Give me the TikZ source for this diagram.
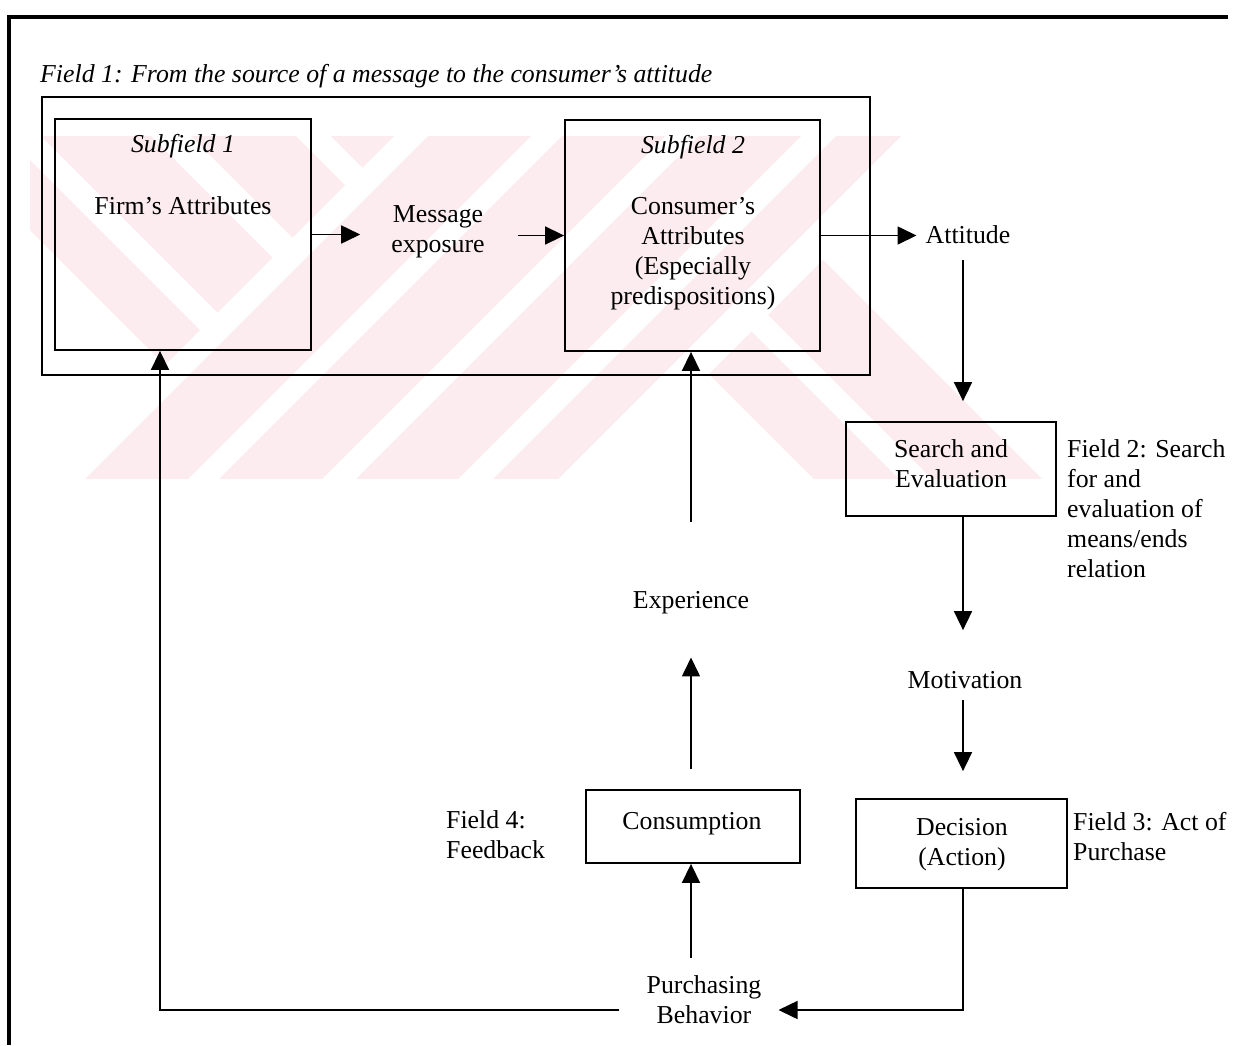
\documentclass[tikz,border=0pt]{standalone}
\usepackage{fontspec}
\setmainfont{Liberation Serif}
\usetikzlibrary{arrows.meta}
\definecolor{wmpink}{RGB}{252,236,240}
\newcommand{\dsize}{\fontsize{25.8}{30}\selectfont}

\begin{document}
\begin{tikzpicture}[x=1pt,y=-1pt,
  txt/.style={font=\dsize, align=center, inner sep=0pt},
  lbl/.style={font=\dsize, align=left, inner sep=0pt, anchor=west},
  frame/.style={draw, line width=1.8pt, inner sep=0pt},
  conn/.style={line width=1.6pt},
  arr/.style={conn, -{Triangle[length=19pt,width=18pt]}},
]
\useasboundingbox[fill=white] (0,0) rectangle (1243,1045);

% light background stripes
\begin{scope}
  \clip (30,136) rectangle (1060,478);
  % stripes leaning right, upper left part
  \begin{scope}
    \clip (0,0) -- (530,0) -- (0,530) -- cycle;
    \foreach \a/\b in {-200/-130, -95/15, 55/160, 195/300} {
      \fill[wmpink] (100+\a,100) -- (100+\b,100) -- (600+\b,600) -- (600+\a,600) -- cycle;
    }
  \end{scope}
  % rising stripes, middle part
  \begin{scope}
    \clip (564,0) -- (2000,0) -- (2000,2000) -- (0,2000) -- (0,564) -- cycle;
    \clip (0,0) -- (1037,0) -- (0,1037) -- cycle;
    \foreach \a/\b in {87/190, 221/324, 358/460, 495/560} {
      \fill[wmpink] (\a-100,577) -- (\b-100,577) -- (\b+500,-23) -- (\a+500,-23) -- cycle;
    }
  \end{scope}
  % stripes leaning right, lower right part
  \begin{scope}
    \clip (300,0) -- (1300,1000) -- (2000,1000) -- (2000,0) -- cycle;
    \clip (1083,0) -- (2000,0) -- (2000,2000) -- (0,2000) -- (0,1083) -- cycle;
    \fill[white] (0,0) rectangle (2000,1000);
    \foreach \a/\b in {335/420, 453/563} {
      \fill[wmpink] (100+\a,100) -- (100+\b,100) -- (600+\b,600) -- (600+\a,600) -- cycle;
    }
  \end{scope}
\end{scope}

% page frame
\draw[line width=3.5pt] (8,17) -- (1228,17);
\draw[line width=3.5pt] (9,15.25) -- (9,1045);

% boxes
\node[frame, minimum width=828pt, minimum height=278pt] (field1) at (456,236) {};
\node[frame, minimum width=256pt, minimum height=231pt] (sub1) at (183,234.5) {};
\node[frame, minimum width=255pt, minimum height=231pt] (sub2) at (692.5,235.5) {};
\node[frame, minimum width=210pt, minimum height=94pt] (search) at (951,469) {};
\node[frame, minimum width=211pt, minimum height=89pt] (decision) at (961.5,843.5) {};
\node[frame, minimum width=214pt, minimum height=73pt] (consumption) at (693,826.5) {};

% texts
\node[txt, anchor=west, font=\dsize\itshape] (title) at (40,76) {Field 1: From the source of a message to the consumer’s attitude};
\node[txt, font=\dsize\itshape] (sub1title) at (183,146) {Subfield 1};
\node[txt] (firm) at (183,206) {Firm’s Attributes};
\node[txt] (msg) at (438,232) {Message\\exposure};
\node[txt, font=\dsize\itshape] (sub2title) at (693,147) {Subfield 2};
\node[txt] (cons) at (693,254) {Consumer’s\\Attributes\\(Especially\\predispositions)};
\node[txt] (attitude) at (968,235) {Attitude};
\node[txt] (searchtxt) at (951,464) {Search and\\Evaluation};
\node[lbl] (field2) at (1067,509) {Field 2: Search\\for and\\evaluation of\\means/ends\\relation};
\node[txt] (motivation) at (965,680) {Motivation};
\node[txt] (decisiontxt) at (962,845) {Decision\\(Action)};
\node[lbl] (field3) at (1073,837) {Field 3: Act of\\Purchase};
\node[txt] (consumptiontxt) at (692,824) {Consumption};
\node[lbl] (field4) at (446,835) {Field 4:\\Feedback};
\node[txt] (experience) at (691,603) {Experience};
\node[txt] (purchasing) at (704,1000) {Purchasing\\Behavior};

% columns of the vertical connectors
\coordinate (colL) at (160,0);
\coordinate (colM) at (691,0);
\coordinate (colR) at (963,0);

% connectors
\draw[arr, shorten >=31pt] (sub1.east) -- (sub1.east -| msg.west);
\draw[arr, shorten <=33pt] (msg.east |- sub2.west) -- (sub2.west);
\draw[arr, shorten >=9pt] (sub2.east) -- (sub2.east -| attitude.west);
\draw[arr, shorten <=16pt, shorten >=20pt] (attitude.south -| colR) -- (search.north -| colR);
\draw[arr, shorten >=41pt] (search.south -| colR) -- (motivation.north -| colR);
\draw[arr, shorten <=11pt, shorten >=27pt] (motivation.south -| colR) -- (decision.north -| colR);
\draw[arr, shorten >=17pt] (decision.south -| colR) |- ([yshift=-10pt]purchasing.east);
\draw[arr, shorten <=18pt] (purchasing.north -| colM) -- (consumption.south -| colM);
\draw[arr, shorten <=20pt, shorten >=43pt] (consumption.north -| colM) -- (experience.south -| colM);
\draw[arr, shorten <=70pt] (experience.north -| colM) -- (sub2.south -| colM);
\draw[arr, shorten <=27pt] ([yshift=-10pt]purchasing.west) -| (sub1.south -| colL);
\end{tikzpicture}
\end{document}
